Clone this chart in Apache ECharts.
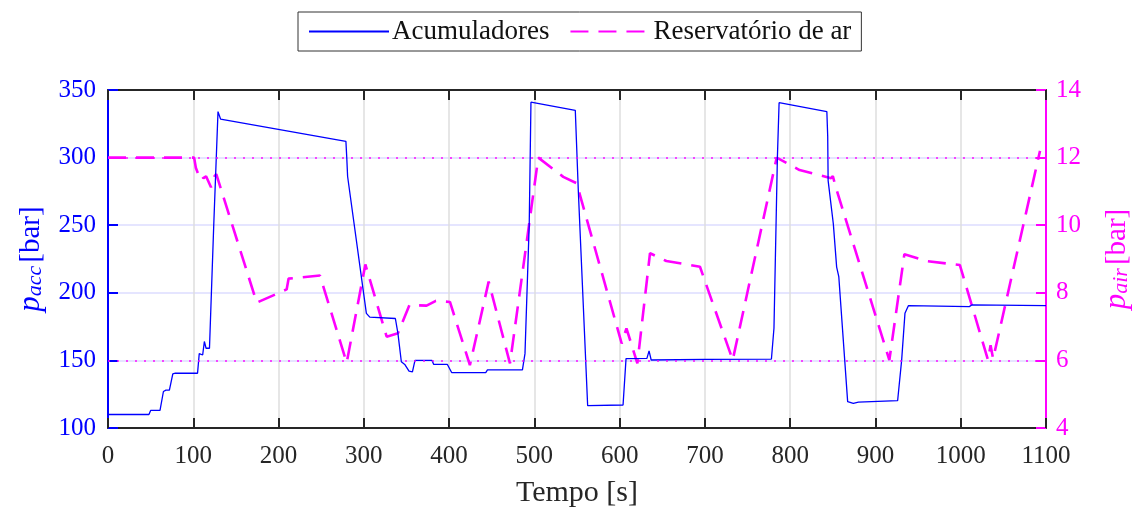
<!DOCTYPE html>
<html lang="pt">
<head>
    <meta charset="utf-8" />
    <title>Acumuladores e reservatório de ar</title>
    <script src="https://cdn.jsdelivr.net/npm/echarts@6/dist/echarts.min.js"></script>
</head>
<body style="margin: 0; background: #FFFFFF">
    <div id="chart" style="width: 1136px; height: 509px"></div>
    <script>
    // pressão nos acumuladores [bar] (eixo esquerdo)
    const accTime = [0, 48, 50, 61, 65, 68, 72, 76, 79, 105, 107, 111, 113, 115, 119, 124, 129, 132,
        279, 280, 281, 303, 307, 337, 340, 344, 348, 353, 357, 360, 380, 382, 398, 403, 443, 445, 486,
        489, 494, 496, 548, 551.5, 562.5, 604, 605, 607.5, 632, 634.5, 637, 700, 778, 781, 785, 787,
        843, 844, 844.5, 850.6, 854.5, 857, 867.4, 874, 880, 926, 930.7, 934.6, 938.6, 1010, 1013, 1100]
    const accPressure = [110, 110, 113, 113, 127, 128, 128, 140, 140.5, 140.5, 155, 154, 164, 159, 159, 250, 334, 328.5,
        312, 300, 286, 184.8, 182, 181, 170, 149, 147, 142, 141.5, 150, 150, 147, 147, 141, 141, 143, 143,
        155, 251, 341, 335, 276, 116.5, 117, 116.5, 151.3, 151.5, 157, 150.3, 150.8, 151, 174, 300, 340.6,
        334, 316, 283, 251, 219, 212, 119.5, 118.2, 119.2, 120.2, 150, 184.8, 190.5, 189.8, 191, 190.5]

    // pressão no reservatório de ar [bar] (eixo direito)
    const airTime = [0, 101, 103, 104.6, 107, 109, 112, 115, 120.8, 125, 127, 174.4, 209.5, 211.8, 248.6,
        279.9, 301.8, 326.8, 340, 353.6, 373.6, 384.5, 401, 424.4, 446.4, 471.4, 504.6, 533.9, 549.6,
        602.4, 604.3, 608, 620.8, 635.6, 654.8, 694.2, 732.6, 784.2, 811, 848, 850, 854.5, 916.3, 933.9,
        960, 999, 1032, 1035, 1038, 1093]
    const airPressure = [12, 12, 11.7, 11.68, 11.43, 11.5, 11.39, 11.45, 11.12, 11.45, 11.51, 7.71, 8.1, 8.42, 8.51,
        5.93, 8.84, 6.7, 6.8, 7.64, 7.62, 7.76, 7.73, 5.86, 8.33, 5.91, 12.0, 11.43, 11.24,
        6.5, 6.5, 6.95, 5.91, 9.17, 8.94, 8.77, 6.01, 12.0, 11.63, 11.39, 11.45, 11.04, 6.01, 9.14,
        8.94, 8.82, 6.01, 6.45, 6.05, 12.2]

    const airLimits = [12, 6]

    const xTicks = { min: 0, max: 1100, interval: 100 }
    const accTicks = { min: 100, max: 350, interval: 50 }
    const airTicks = { min: 4, max: 14, interval: 2 }

    const serif = '"Liberation Serif", "DejaVu Serif", serif'
    const blue = '#0000ff'
    const magenta = '#ff00ff'
    const plain = v => String(v)

    function axisName(color) {
        return {
            color: color,
            rich: {
                i: { fontFamily: serif, fontSize: 31, fontStyle: 'italic', color: color, verticalAlign: 'bottom', lineHeight: 34 },
                s: { fontFamily: serif, fontSize: 22, fontStyle: 'italic', color: color, verticalAlign: 'bottom', lineHeight: 24 },
                n: { fontFamily: serif, fontSize: 29, color: color, verticalAlign: 'bottom', lineHeight: 34 }
            }
        }
    }

    let chart = echarts.init(document.getElementById('chart'))

    chart.setOption({
        animation: false,
        textStyle: { fontFamily: serif },
        grid: { left: 108, right: 90, top: 90, bottom: 81, outerBoundsMode: 'none' },
        legend: {
            left: 298,
            top: 12,
            padding: [6, 10, 6, 10],
            borderColor: '#333333',
            borderWidth: 1,
            itemWidth: 80,
            itemHeight: 14,
            itemGap: 20,
            itemStyle: { opacity: 0 },
            textStyle: { fontFamily: serif, fontSize: 27, color: '#111111', padding: [0, 0, 0, -2] },
            data: ['Acumuladores', 'Reservatório de ar']
        },
        xAxis: [{
            type: 'value',
            position: 'bottom',
            min: xTicks.min,
            max: xTicks.max,
            interval: xTicks.interval,
            name: 'Tempo [s]',
            nameLocation: 'middle',
            nameGap: 50,
            nameTextStyle: { fontFamily: serif, fontSize: 30, color: '#262626' },
            axisLine: { onZero: false, lineStyle: { color: '#262626', width: 2 } },
            axisTick: { inside: true, length: 10, lineStyle: { color: '#262626', width: 2 } },
            axisLabel: { fontFamily: serif, fontSize: 25, color: '#262626', margin: 16, formatter: plain },
            splitLine: { show: true, lineStyle: { color: '#dedede', width: 1.5 } }
        }, {
            type: 'value',
            position: 'top',
            min: xTicks.min,
            max: xTicks.max,
            interval: xTicks.interval,
            axisLine: { onZero: false, lineStyle: { color: '#262626', width: 2 } },
            axisTick: { inside: true, length: 10, lineStyle: { color: '#262626', width: 2 } },
            axisLabel: { show: false },
            splitLine: { show: false }
        }],
        yAxis: [{
            type: 'value',
            position: 'left',
            min: accTicks.min,
            max: accTicks.max,
            interval: accTicks.interval,
            name: '{i|p}{s|acc} {n|[bar]}',
            nameLocation: 'middle',
            nameRotate: 90,
            nameGap: 62,
            nameTextStyle: axisName(blue),
            axisLine: { show: true, onZero: false, lineStyle: { color: blue, width: 2 } },
            axisTick: { inside: true, length: 10, lineStyle: { color: blue, width: 2 } },
            axisLabel: { fontFamily: serif, fontSize: 25, color: blue, margin: 12, formatter: plain },
            splitLine: { show: true, lineStyle: { color: '#dcdcff', width: 1.5 } }
        }, {
            type: 'value',
            position: 'right',
            min: airTicks.min,
            max: airTicks.max,
            interval: airTicks.interval,
            name: '{i|p}{s|air} {n|[bar]}',
            nameLocation: 'middle',
            nameRotate: 90,
            nameGap: 52,
            nameTextStyle: axisName(magenta),
            axisLine: { show: true, onZero: false, lineStyle: { color: magenta, width: 2 } },
            axisTick: { inside: true, length: 10, lineStyle: { color: magenta, width: 2 } },
            axisLabel: { fontFamily: serif, fontSize: 25, color: magenta, margin: 10, formatter: plain },
            splitLine: { show: false }
        }],
        series: [{
            name: 'Acumuladores',
            type: 'line',
            xAxisIndex: 0,
            yAxisIndex: 0,
            symbol: 'none',
            z: 3,
            lineStyle: { color: blue, width: 1.3 },
            itemStyle: { color: blue },
            data: accTime.map((t, i) => [t, accPressure[i]])
        }, {
            name: 'Reservatório de ar',
            type: 'line',
            xAxisIndex: 0,
            yAxisIndex: 1,
            symbol: 'none',
            z: 2,
            lineStyle: { color: magenta, width: 2.6, type: [18, 10] },
            itemStyle: { color: magenta },
            markLine: {
                silent: true,
                symbol: 'none',
                label: { show: false },
                lineStyle: { color: magenta, width: 2, type: [2, 7], opacity: 0.7 },
                data: airLimits.map(v => ({ yAxis: v }))
            },
            data: airTime.map((t, i) => [t, airPressure[i]])
        }]
    })
    </script>
</body>
</html>
